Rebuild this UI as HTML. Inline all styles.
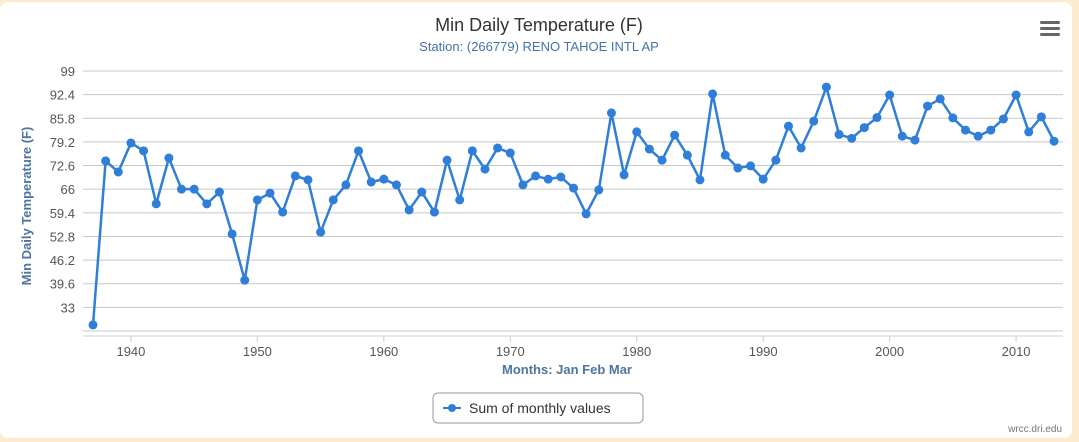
<!DOCTYPE html>
<html><head><meta charset="utf-8"><style>
html,body{margin:0;padding:0;background:#fdebd0;}
body{width:1079px;height:442px;overflow:hidden;position:relative;font-family:"Liberation Sans",sans-serif;}
#card{position:absolute;left:0;top:2px;width:1072px;height:436px;background:#fff;border-radius:8px;}
svg{position:absolute;left:0;top:0;}
</style></head><body>
<div id="card"></div>
<svg id="chart" width="1079" height="442">
<text x="539" y="31" text-anchor="middle" font-size="18" fill="#333">Min Daily Temperature (F)</text>
<text x="539" y="51" text-anchor="middle" font-size="13" fill="#4572a7">Station: (266779) RENO TAHOE INTL AP</text>
<g>
<rect x="1040" y="21" width="20" height="3" rx="1.5" fill="#666"/>
<rect x="1040" y="27" width="20" height="3" rx="1.5" fill="#666"/>
<rect x="1040" y="33" width="20" height="3" rx="1.5" fill="#666"/>
</g>
<g id="grid"></g><g id="yticks"></g><g id="xaxis"></g><g id="series"></g>
<text transform="translate(31,206) rotate(-90)" text-anchor="middle" font-size="13" font-weight="bold" fill="#4d759e">Min Daily Temperature (F)</text>
<text x="567" y="374" text-anchor="middle" font-size="13" font-weight="bold" fill="#4d759e">Months: Jan Feb Mar</text>
<g>
<rect x="433" y="393" width="210" height="30" rx="5" fill="#fff" stroke="#999"/>
<line x1="443" y1="408" x2="461" y2="408" stroke="#2f7ed8" stroke-width="2"/>
<circle cx="452" cy="408" r="4" fill="#2f7ed8"/>
<text x="469" y="413" font-size="14" fill="#333">Sum of monthly values</text>
</g>
<text x="1062" y="432" text-anchor="end" font-size="10" fill="#777">wrcc.dri.edu</text>
</svg>
<script>
const years=[];for(let y=1937;y<=2013;y++)years.push(y);
const values=[28.1,73.9,70.8,78.9,76.7,61.9,74.7,66.0,66.0,61.9,65.2,53.5,40.6,63.0,64.9,59.6,69.7,68.6,54.0,63.0,67.2,76.7,68.0,68.8,67.2,60.2,65.2,59.6,74.1,63.0,76.7,71.6,77.5,76.1,67.2,69.7,68.8,69.4,66.3,59.1,65.8,87.3,70.0,82.0,77.2,74.1,81.1,75.5,68.6,92.6,75.5,71.9,72.5,68.8,74.1,83.6,77.5,85.0,94.5,81.3,80.2,83.2,86.0,92.3,80.8,79.7,89.2,91.2,85.9,82.5,80.8,82.5,85.6,92.3,82.0,86.2,79.4];
const yTicks=[33,39.6,46.2,52.8,59.4,66,72.6,79.2,85.8,92.4,99];
const xTicks=[1940,1950,1960,1970,1980,1990,2000,2010];
const NS='http://www.w3.org/2000/svg';
const X=v=>93+(v-1937)*12.645;
const Y=v=>331-(v-26.4)*(260/72.6);
function mk(t,a,p){const e=document.createElementNS(NS,t);for(const k in a)e.setAttribute(k,a[k]);p.appendChild(e);return e;}
const grid=document.getElementById('grid'),yt=document.getElementById('yticks'),xa=document.getElementById('xaxis'),se=document.getElementById('series');
[26.4].concat(yTicks).forEach(v=>{const l=mk('line',{x1:83,x2:1063,y1:Y(v),y2:Y(v),stroke:'#c8c8c8','stroke-width':1},grid);

});
yTicks.forEach(v=>{const t=mk('text',{x:75,y:Y(v)+5,'text-anchor':'end','font-size':13,fill:'#555'},yt);t.textContent=v;

});
const ax=mk('line',{x1:83,x2:1063,y1:336,y2:336,stroke:'#c0d0e0','stroke-width':1},xa);


xTicks.forEach(v=>{mk('line',{x1:X(v),x2:X(v),y1:336,y2:342,stroke:'#c0d0e0'},xa);
const t=mk('text',{x:X(v),y:356,'text-anchor':'middle','font-size':13,fill:'#555'},xa);t.textContent=v;

});
const path=mk('polyline',{points:values.map((v,i)=>X(years[i])+','+Y(v)).join(' '),fill:'none',stroke:'#2f7ed8','stroke-width':2.5,'stroke-linejoin':'round'},se);


values.forEach((v,i)=>{const c=mk('circle',{cx:X(years[i]),cy:Y(v),r:4.5,fill:'#2f7ed8'},se);

});
</script>
</body></html>
